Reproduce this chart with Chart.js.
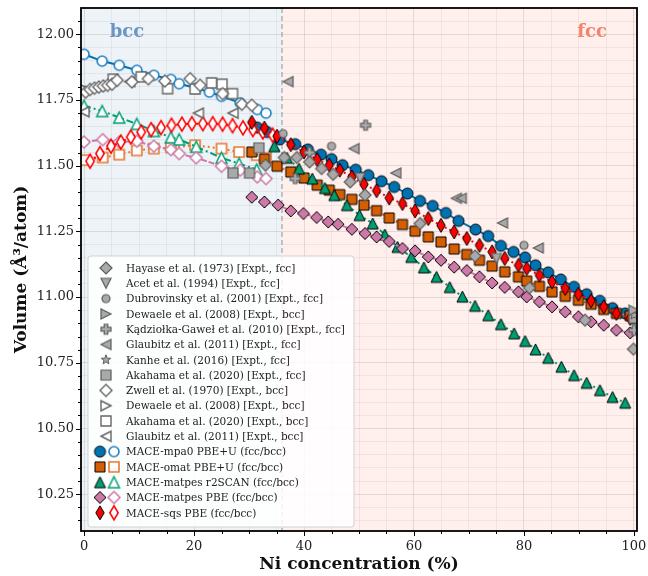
<!DOCTYPE html>
<html>
<head>
<meta charset="utf-8">
<script src="https://cdn.jsdelivr.net/npm/chart.js@4.4.0/dist/chart.umd.min.js"></script>
<style>
html, body { margin: 0; padding: 0; background: #fff; }
</style>
</head>
<body>
<canvas id="volChart" width="648" height="576"></canvas>
<script>
// ---- data: Ni concentration (%) and volume (Å^3/atom) ----
// MACE models, fcc (filled) and bcc (open)
const mpa0FccX = [31.5, 33.3, 35.6, 38.4, 40.7, 43.1, 45.0, 47.0, 49.4, 51.7, 54.1, 56.4, 58.8, 61.1, 63.4, 65.8, 68.1, 71.2, 73.5, 75.8, 78.1, 80.2, 82.1, 84.4, 86.7, 89.1, 91.4, 93.8, 96.1, 98.4, 100];
const mpa0FccV = [11.645, 11.628, 11.600, 11.582, 11.562, 11.542, 11.525, 11.502, 11.485, 11.464, 11.441, 11.419, 11.394, 11.366, 11.347, 11.320, 11.290, 11.257, 11.232, 11.195, 11.172, 11.151, 11.121, 11.094, 11.067, 11.039, 11.011, 10.986, 10.958, 10.938, 10.918];
const mpa0BccX = [0, 3.3, 6.4, 9.6, 12.7, 15.8, 17.3, 20.5, 22.8, 25.0, 28.4, 31.5, 33.1];
const mpa0BccV = [11.924, 11.898, 11.882, 11.863, 11.844, 11.828, 11.812, 11.795, 11.780, 11.764, 11.739, 11.714, 11.700];

const fccX = [30.5, 32.8, 35.1, 37.6, 40.0, 42.4, 44.6, 46.5, 48.7, 50.9, 53.2, 55.5, 57.9, 60.2, 62.6, 64.9, 67.3, 69.6, 71.9, 74.2, 76.5, 79.0, 80.5, 82.8, 85.1, 87.5, 89.9, 92.2, 94.5, 96.8, 99.3];
const omatFccV = [11.552, 11.525, 11.498, 11.476, 11.453, 11.426, 11.407, 11.390, 11.372, 11.350, 11.329, 11.301, 11.276, 11.251, 11.229, 11.210, 11.183, 11.162, 11.140, 11.118, 11.096, 11.077, 11.061, 11.041, 11.020, 11.003, 10.988, 10.973, 10.953, 10.938, 10.929];
const omatBccX = [0, 3.4, 6.4, 9.6, 12.7, 15.8, 20.2, 25.0, 28.2, 31.4, 33.1];
const omatBccV = [11.521, 11.531, 11.542, 11.558, 11.565, 11.569, 11.578, 11.565, 11.552, 11.540, 11.530];

const r2FccX = [34.6, 36.9, 39.1, 41.5, 43.8, 45.5, 47.8, 50.1, 52.5, 54.7, 57.0, 59.5, 61.8, 64.1, 66.5, 68.8, 71.1, 73.5, 75.8, 78.2, 80.2, 82.1, 84.4, 86.8, 89.1, 91.4, 93.8, 96.1, 98.4];
const r2FccV = [11.574, 11.530, 11.489, 11.451, 11.415, 11.388, 11.350, 11.312, 11.280, 11.238, 11.191, 11.153, 11.113, 11.077, 11.038, 11.002, 10.967, 10.931, 10.897, 10.862, 10.833, 10.801, 10.769, 10.735, 10.703, 10.674, 10.646, 10.620, 10.598];
const r2BccX = [0, 3.3, 6.4, 9.6, 12.7, 15.8, 17.3, 20.4, 25.0, 28.2, 31.4];
const r2BccV = [11.728, 11.708, 11.683, 11.659, 11.632, 11.608, 11.600, 11.572, 11.530, 11.508, 11.485];

const pbeFccX = [30.5, 32.8, 35.3, 37.6, 39.9, 42.3, 44.4, 46.2, 48.7, 51.1, 53.2, 55.5, 57.9, 60.2, 62.6, 64.9, 67.3, 69.6, 71.9, 74.2, 76.5, 79.0, 80.5, 82.8, 85.1, 87.5, 89.9, 92.2, 94.5, 96.8, 99.3];
const pbeFccV = [11.380, 11.362, 11.350, 11.328, 11.318, 11.303, 11.286, 11.277, 11.258, 11.242, 11.229, 11.212, 11.185, 11.176, 11.153, 11.140, 11.114, 11.101, 11.077, 11.054, 11.037, 11.020, 11.001, 10.982, 10.963, 10.944, 10.925, 10.906, 10.893, 10.874, 10.864];
const pbeBccX = [0, 3.4, 6.4, 9.6, 12.7, 15.8, 17.3, 20.4, 25.0, 28.4, 31.5, 33.1];
const pbeBccV = [11.590, 11.599, 11.590, 11.593, 11.574, 11.561, 11.546, 11.530, 11.498, 11.483, 11.457, 11.451];

const sqsFccV = [11.665, 11.643, 11.612, 11.580, 11.552, 11.523, 11.502, 11.483, 11.457, 11.429, 11.405, 11.377, 11.356, 11.328, 11.299, 11.273, 11.248, 11.223, 11.197, 11.172, 11.147, 11.121, 11.109, 11.083, 11.058, 11.033, 11.011, 10.986, 10.963, 10.938, 10.919];
const sqsBccX = [1.1, 2.9, 4.9, 6.7, 8.5, 10.4, 12.2, 14.0, 15.9, 17.8, 19.6, 21.6, 23.4, 25.2, 27.0, 28.9, 30.7, 32.5, 34.3];
const sqsBccV = [11.517, 11.546, 11.574, 11.590, 11.609, 11.628, 11.637, 11.645, 11.654, 11.658, 11.660, 11.660, 11.660, 11.658, 11.652, 11.644, 11.637, 11.628, 11.616];

// experiments
const hayaseX = [33.0, 36.4, 38.7, 41.0, 43.2, 45.3, 48.4, 51.1, 61.1, 71.1, 81.0, 91.1, 99.9];
const hayaseV = [11.502, 11.531, 11.531, 11.514, 11.489, 11.467, 11.438, 11.388, 11.280, 11.156, 11.035, 10.912, 10.802];
const acetX = [50.2, 75.0];
const acetV = [11.453, 11.147];
const dubrovX = [36.2, 45.0, 80.0];
const dubrovV = [11.622, 11.574, 11.197];
const dewaeleFX = [100];
const dewaeleFV = [10.950];
const kadzX = [38.4, 41.0, 51.2, 100];
const kadzV = [11.451, 11.550, 11.654, 10.874];
const glaubFX = [37.1, 49.1, 56.7, 67.7, 68.6, 76.1, 82.6];
const glaubFV = [11.820, 11.565, 11.472, 11.376, 11.376, 11.282, 11.187];
const kanheX = [100];
const kanheV = [10.932];
const akaFX = [27.1, 30.1, 31.8, 100];
const akaFV = [11.472, 11.472, 11.568, 10.920];
const zwellX = [0.3, 1.1, 1.9, 2.7, 3.5, 4.3, 5.1, 6.0, 8.7, 11.7, 14.7, 19.3, 21.1, 25.2, 28.7, 30.5];
const zwellV = [11.780, 11.790, 11.795, 11.799, 11.803, 11.806, 11.810, 11.825, 11.819, 11.831, 11.822, 11.831, 11.806, 11.774, 11.734, 11.730];
const dewaeleBX = [0];
const dewaeleBV = [11.792];
const akaBX = [5.3, 10.4, 15.2, 20.2, 23.2, 25.1, 27.0];
const akaBV = [11.829, 11.838, 11.793, 11.792, 11.815, 11.810, 11.774];
const glaubBX = [0, 8.3, 20.8, 27.1];
const glaubBV = [11.705, 11.820, 11.700, 11.700];

const phaseBoundary = 36;
const xTickVals = [];
for (let v = 0; v <= 100; v += 5) xTickVals.push(v);
const yTickVals = [];
for (let k = 203; k <= 241; k++) yTickVals.push(k / 20);

const SERIF = "'DejaVu Serif', serif";
const C_BLUE = '#0072b2', C_BLUE_O = '#1f7fc4';
const C_ORANGE = '#d55e00', C_ORANGE_O = '#e8772e';
const C_GREEN = '#009e73';
const C_PINK = '#cc79a7';
const C_RED = '#ff0000';
const G_FACE = '#a9a9a9', G_EDGE = '#5c5c5c';

// marker images, used for the plot and the legend
function marker(shape, size, face, edge, lw) {
    const pad = Math.ceil(lw) + 1;
    const dim = Math.ceil(size) + 2 * pad;
    const c = document.createElement('canvas');
    c.width = dim; c.height = dim;
    const g = c.getContext('2d');
    const m = dim / 2, r = size / 2;
    let poly = null;
    g.beginPath();
    if (shape === 'circle') {
        g.arc(m, m, r, 0, Math.PI * 2);
    } else if (shape === 'square') {
        g.rect(m - r, m - r, size, size);
    } else if (shape === 'diamond') {
        poly = [[0, -1], [1, 0], [0, 1], [-1, 0]];
    } else if (shape === 'thin') {
        poly = [[0, -1], [0.6, 0], [0, 1], [-0.6, 0]];
    } else if (shape === 'triUp') {
        poly = [[0, -1], [1, 1], [-1, 1]];
    } else if (shape === 'triDown') {
        poly = [[0, 1], [1, -1], [-1, -1]];
    } else if (shape === 'triLeft') {
        poly = [[-1, 0], [1, -1], [1, 1]];
    } else if (shape === 'triRight') {
        poly = [[1, 0], [-1, -1], [-1, 1]];
    } else if (shape === 'plus') {
        const w = 0.36;
        poly = [[-w, -1], [w, -1], [w, -w], [1, -w], [1, w], [w, w], [w, 1], [-w, 1], [-w, w], [-1, w], [-1, -w], [-w, -w]];
    } else if (shape === 'star') {
        poly = [];
        for (let i = 0; i < 10; i++) {
            const a = -Math.PI / 2 + i * Math.PI / 5;
            const rr = i % 2 ? 0.42 : 1;
            poly.push([rr * Math.cos(a), rr * Math.sin(a)]);
        }
    }
    if (poly) {
        poly.forEach((p, i) => {
            const px = m + p[0] * r, py = m + p[1] * r;
            if (i === 0) g.moveTo(px, py); else g.lineTo(px, py);
        });
    }
    g.closePath();
    g.fillStyle = face;
    g.fill();
    g.lineWidth = lw;
    g.lineJoin = 'miter';
    g.strokeStyle = edge;
    g.stroke();
    return c;
}

const mk = {
    mpa0F: marker('circle', 11, C_BLUE, '#000', 1),
    mpa0B: marker('circle', 10, '#fff', C_BLUE_O, 1.6),
    omatF: marker('square', 10, C_ORANGE, '#000', 1),
    omatB: marker('square', 10, '#fff', C_ORANGE_O, 1.6),
    r2F: marker('triUp', 11, C_GREEN, '#000', 1),
    r2B: marker('triUp', 11, '#fff', C_GREEN, 1.5),
    pbeF: marker('diamond', 12, C_PINK, '#000', 1),
    pbeB: marker('diamond', 12, '#fff', C_PINK, 1.5),
    sqsF: marker('thin', 14, C_RED, '#000', 1),
    sqsB: marker('thin', 14, '#fff', C_RED, 1.5),
    hayase: marker('diamond', 12, G_FACE, G_EDGE, 1.2),
    acet: marker('triDown', 10, G_FACE, G_EDGE, 1.2),
    dubrov: marker('circle', 8, G_FACE, G_EDGE, 1.2),
    dewaeleF: marker('triRight', 10, G_FACE, G_EDGE, 1.2),
    kadz: marker('plus', 10, G_FACE, G_EDGE, 1.2),
    glaubF: marker('triLeft', 10, G_FACE, G_EDGE, 1.2),
    kanhe: marker('star', 10, G_FACE, G_EDGE, 1),
    akaF: marker('square', 10, G_FACE, G_EDGE, 1.2),
    zwell: marker('diamond', 12, '#fff', '#666', 1.4),
    dewaeleB: marker('triRight', 10, '#fff', '#666', 1.4),
    akaB: marker('square', 10, '#fff', '#666', 1.4),
    glaubB: marker('triLeft', 10, '#fff', '#666', 1.4)
};

function pts(xs, vs) {
    return xs.map((x, i) => ({ x: x, y: vs[i] }));
}

function expt(label, xs, vs, img) {
    return { label: label, data: pts(xs, vs), pointStyle: img, pointRadius: 5, showLine: false };
}

function mace(label, xs, vs, img, color, dash) {
    return {
        label: label, data: pts(xs, vs), pointStyle: img, pointRadius: 5,
        showLine: true, borderColor: color, borderWidth: 2, borderDash: dash, tension: 0
    };
}

const datasets = [
    expt('Hayase', hayaseX, hayaseV, mk.hayase),
    expt('Acet', acetX, acetV, mk.acet),
    expt('Dubrovinsky', dubrovX, dubrovV, mk.dubrov),
    expt('Dewaele fcc', dewaeleFX, dewaeleFV, mk.dewaeleF),
    expt('Kadziolka', kadzX, kadzV, mk.kadz),
    expt('Glaubitz fcc', glaubFX, glaubFV, mk.glaubF),
    expt('Kanhe', kanheX, kanheV, mk.kanhe),
    expt('Akahama fcc', akaFX, akaFV, mk.akaF),
    expt('Zwell', zwellX, zwellV, mk.zwell),
    expt('Dewaele bcc', dewaeleBX, dewaeleBV, mk.dewaeleB),
    expt('Akahama bcc', akaBX, akaBV, mk.akaB),
    expt('Glaubitz bcc', glaubBX, glaubBV, mk.glaubB),
    mace('sqs fcc', fccX, sqsFccV, mk.sqsF, C_RED, [2, 3]),
    mace('sqs bcc', sqsBccX, sqsBccV, mk.sqsB, C_RED, [2, 3]),
    mace('pbe fcc', pbeFccX, pbeFccV, mk.pbeF, C_PINK, [6, 2]),
    mace('pbe bcc', pbeBccX, pbeBccV, mk.pbeB, C_PINK, [6, 2]),
    mace('r2 fcc', r2FccX, r2FccV, mk.r2F, C_GREEN, [7, 3, 2, 3]),
    mace('r2 bcc', r2BccX, r2BccV, mk.r2B, C_GREEN, [7, 3, 2, 3]),
    mace('omat fcc', fccX, omatFccV, mk.omatF, C_ORANGE_O, [2, 3]),
    mace('omat bcc', omatBccX, omatBccV, mk.omatB, C_ORANGE_O, [2, 3]),
    mace('mpa0 fcc', mpa0FccX, mpa0FccV, mk.mpa0F, C_BLUE, []),
    mace('mpa0 bcc', mpa0BccX, mpa0BccV, mk.mpa0B, C_BLUE, [])
];

const legendItems = [
    ['Hayase et al. (1973) [Expt., fcc]', [mk.hayase]],
    ['Acet et al. (1994) [Expt., fcc]', [mk.acet]],
    ['Dubrovinsky et al. (2001) [Expt., fcc]', [mk.dubrov]],
    ['Dewaele et al. (2008) [Expt., bcc]', [mk.dewaeleF]],
    ['Kądziołka-Gaweł et al. (2010) [Expt., fcc]', [mk.kadz]],
    ['Glaubitz et al. (2011) [Expt., fcc]', [mk.glaubF]],
    ['Kanhe et al. (2016) [Expt., fcc]', [mk.kanhe]],
    ['Akahama et al. (2020) [Expt., fcc]', [mk.akaF]],
    ['Zwell et al. (1970) [Expt., bcc]', [mk.zwell]],
    ['Dewaele et al. (2008) [Expt., bcc]', [mk.dewaeleB]],
    ['Akahama et al. (2020) [Expt., bcc]', [mk.akaB]],
    ['Glaubitz et al. (2011) [Expt., bcc]', [mk.glaubB]],
    ['MACE-mpa0 PBE+U (fcc/bcc)', [mk.mpa0F, mk.mpa0B]],
    ['MACE-omat PBE+U (fcc/bcc)', [mk.omatF, mk.omatB]],
    ['MACE-matpes r2SCAN (fcc/bcc)', [mk.r2F, mk.r2B]],
    ['MACE-matpes PBE (fcc/bcc)', [mk.pbeF, mk.pbeB]],
    ['MACE-sqs PBE (fcc/bcc)', [mk.sqsF, mk.sqsB]]
];

function isMajorY(v) { return Math.abs(v * 4 - Math.round(v * 4)) < 1e-6; }

const decor = {
    id: 'decor',
    beforeDraw(chart) {
        const { ctx, chartArea: a, scales: { x } } = chart;
        const xb = x.getPixelForValue(phaseBoundary);
        ctx.save();
        ctx.fillStyle = '#eef3f8';
        ctx.fillRect(a.left, a.top, xb - a.left, a.bottom - a.top);
        ctx.fillStyle = '#fff0ee';
        ctx.fillRect(xb, a.top, a.right - xb, a.bottom - a.top);
        ctx.restore();
    },
    beforeDatasetsDraw(chart) {
        const { ctx, chartArea: a, scales: { x, y } } = chart;
        const xb = x.getPixelForValue(phaseBoundary);
        ctx.save();
        ctx.strokeStyle = '#a8a8a8';
        ctx.lineWidth = 1.3;
        ctx.setLineDash([5, 3]);
        ctx.beginPath();
        ctx.moveTo(xb, a.top);
        ctx.lineTo(xb, a.bottom);
        ctx.stroke();
        ctx.setLineDash([]);
        ctx.font = 'bold 18px ' + SERIF;
        ctx.textAlign = 'center';
        ctx.textBaseline = 'middle';
        ctx.fillStyle = '#6a95c5';
        ctx.fillText('bcc', x.getPixelForValue(7.8), y.getPixelForValue(12.008));
        ctx.fillStyle = '#f4836b';
        ctx.fillText('fcc', x.getPixelForValue(92.4), y.getPixelForValue(12.008));
        ctx.restore();
    },
    afterDraw(chart) {
        const { ctx, chartArea: a, scales: { x, y } } = chart;
        ctx.save();
        // tick marks
        ctx.strokeStyle = '#000';
        ctx.lineWidth = 1;
        ctx.beginPath();
        xTickVals.forEach(v => {
            const px = Math.round(x.getPixelForValue(v)) + 0.5;
            const len = v % 20 === 0 ? 5 : 3;
            ctx.moveTo(px, a.bottom);
            ctx.lineTo(px, a.bottom + len);
        });
        yTickVals.forEach(v => {
            const py = Math.round(y.getPixelForValue(v)) + 0.5;
            const len = isMajorY(v) ? 5 : 3;
            ctx.moveTo(a.left, py);
            ctx.lineTo(a.left - len, py);
        });
        ctx.stroke();
        // frame
        ctx.lineWidth = 1.8;
        ctx.strokeRect(a.left, a.top, a.right - a.left, a.bottom - a.top);

        // legend
        const bx = a.left + 7, by = a.top + 248, bw = 266, bh = 271;
        const rr = 3;
        ctx.beginPath();
        ctx.moveTo(bx + rr, by);
        ctx.arcTo(bx + bw, by, bx + bw, by + bh, rr);
        ctx.arcTo(bx + bw, by + bh, bx, by + bh, rr);
        ctx.arcTo(bx, by + bh, bx, by, rr);
        ctx.arcTo(bx, by, bx + bw, by, rr);
        ctx.closePath();
        ctx.fillStyle = 'rgba(255,255,255,0.85)';
        ctx.fill();
        ctx.strokeStyle = '#d2d2d2';
        ctx.lineWidth = 1;
        ctx.stroke();
        ctx.font = '10.5px ' + SERIF;
        ctx.textAlign = 'left';
        ctx.textBaseline = 'middle';
        ctx.fillStyle = '#222';
        legendItems.forEach((it, i) => {
            const cy = by + 12 + i * 15.3;
            const imgs = it[1];
            if (imgs.length === 1) {
                const im = imgs[0];
                ctx.drawImage(im, bx + 18 - im.width / 2, cy - im.height / 2);
            } else {
                ctx.drawImage(imgs[0], bx + 12 - imgs[0].width / 2, cy - imgs[0].height / 2);
                ctx.drawImage(imgs[1], bx + 26 - imgs[1].width / 2, cy - imgs[1].height / 2);
            }
            ctx.fillText(it[0], bx + 38, cy + 1);
        });
        ctx.restore();
    }
};

const tickFont = { family: SERIF, size: 13 };
const titleFont = { family: SERIF, size: 17, weight: 'bold' };

new Chart(document.getElementById('volChart'), {
    type: 'scatter',
    data: { datasets: datasets },
    options: {
        responsive: false,
        animation: false,
        layout: { padding: { left: 0, right: 11, top: 8, bottom: 0 } },
        plugins: { legend: { display: false }, tooltip: { enabled: false } },
        scales: {
            x: {
                type: 'linear', min: -0.55, max: 100.55,
                afterBuildTicks: s => { s.ticks = xTickVals.map(v => ({ value: v })); },
                afterFit: s => { s.height = 45; s.paddingLeft = 0; s.paddingRight = 0; },
                border: { display: false },
                grid: {
                    drawTicks: false,
                    color: c => (c.tick && c.tick.value % 20 === 0) ? 'rgba(0,0,0,0.10)' : 'rgba(0,0,0,0.05)'
                },
                ticks: {
                    autoSkip: false, maxRotation: 0, padding: 8, font: tickFont, color: '#222',
                    callback: v => (v % 20 === 0 ? String(v) : '')
                },
                title: { display: true, text: 'Ni concentration (%)', font: titleFont, color: '#111', padding: { top: 0, bottom: 1 } }
            },
            y: {
                type: 'linear', min: 10.11, max: 12.10,
                afterBuildTicks: s => { s.ticks = yTickVals.map(v => ({ value: v })); },
                afterFit: s => { s.width = 81; s.paddingTop = 0; s.paddingBottom = 0; },
                border: { display: false },
                grid: {
                    drawTicks: false,
                    color: c => (c.tick && isMajorY(c.tick.value)) ? 'rgba(0,0,0,0.10)' : 'rgba(0,0,0,0.05)'
                },
                ticks: {
                    autoSkip: false, padding: 7, font: tickFont, color: '#222',
                    callback: v => (isMajorY(v) ? v.toFixed(2) : '')
                },
                title: { display: true, text: 'Volume (Å³/atom)', font: titleFont, color: '#111', padding: { top: 11, bottom: 0 } }
            }
        }
    },
    plugins: [decor]
});
</script>
</body>
</html>
